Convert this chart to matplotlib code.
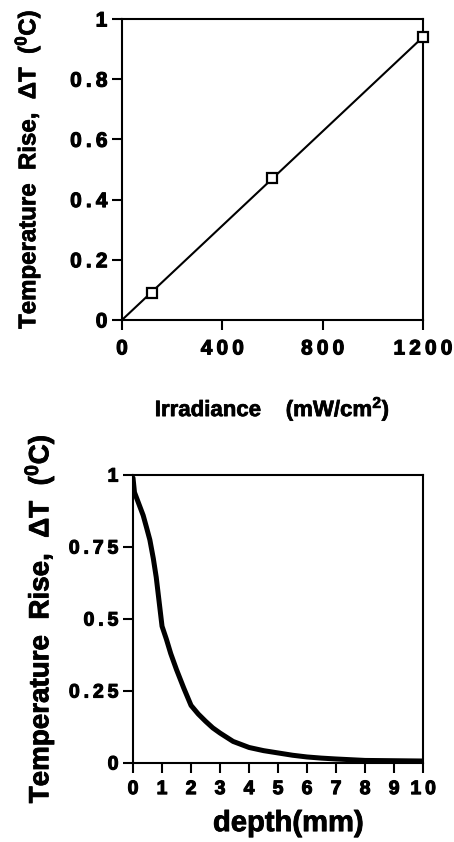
import matplotlib
matplotlib.use("Agg")
import matplotlib.pyplot as plt
import matplotlib.patheffects as pe

plt.rcParams['font.family'] = ['Liberation Sans', 'DejaVu Sans']
plt.rcParams['font.weight'] = 'bold'
plt.rcParams['mathtext.fontset'] = 'custom'
plt.rcParams['mathtext.rm'] = 'Liberation Sans:bold'
plt.rcParams['mathtext.it'] = 'Liberation Sans:bold'
plt.rcParams['mathtext.bf'] = 'Liberation Sans:bold'

# ---- Top panel data ----
irradiance = [120, 600, 1200]
rise_pts = [0.09, 0.47, 0.94]
fit_x = [0, 1200]
fit_y = [0.0, 0.94]
top_xticks = [0, 400, 800, 1200]
top_xticklabels = ['0', '400', '800', '1200']
top_yticks = [0, 0.2, 0.4, 0.6, 0.8, 1]
top_yticklabels = ['0', '0.2', '0.4', '0.6', '0.8', '1']

# ---- Bottom panel data ----
depth = [0.0, 0.05, 0.2, 0.35, 0.46, 0.58, 0.7, 0.8, 0.9, 1.0, 1.15, 1.3,
         1.5, 1.75, 2.0, 2.25, 2.5, 2.75, 3.0, 3.45, 4.0, 4.5, 5.0, 5.5,
         6.0, 6.5, 7.0, 8.0, 9.0, 10.0]
temp = [0.99, 0.94, 0.90, 0.86, 0.82, 0.775, 0.71, 0.645, 0.56, 0.475, 0.43,
        0.38, 0.324, 0.26, 0.20, 0.17, 0.145, 0.122, 0.104, 0.075, 0.054,
        0.043, 0.035, 0.027, 0.021, 0.017, 0.014, 0.009, 0.008, 0.007]
bot_xticks = list(range(0, 11))
bot_xticklabels = [str(v) for v in bot_xticks]
bot_yticks = [0, 0.25, 0.5, 0.75, 1]
bot_yticklabels = ['0', '0.25', '0.5', '0.75', '1']


def spaced(s):
    return '\u2009'.join(s)


heavy = [pe.withStroke(linewidth=0.8, foreground='black')]

fig = plt.figure(figsize=(4.54, 8.42), dpi=100)


def style(ax, size):
    for s in ax.spines.values():
        s.set_linewidth(1.5)
    ax.tick_params(direction='out', length=7, width=1.5, labelsize=size)
    for lab in ax.get_xticklabels() + ax.get_yticklabels():
        lab.set_fontweight('bold')
        lab.set_path_effects(heavy)


# Top
ax1 = fig.add_axes([0.2687, 0.6200, 0.663, 0.3575])
ax1.plot(fit_x, fit_y, color='black', lw=1.5)
ax1.plot(irradiance, rise_pts, linestyle='none', marker='s', ms=6.5,
         mfc='white', mec='black', mew=1.6, clip_on=False, zorder=5)
ax1.set_xlim(0, 1200)
ax1.set_ylim(0, 1)
ax1.set_xticks(top_xticks)
ax1.set_xticklabels([spaced(t) for t in top_xticklabels])
ax1.set_yticks(top_yticks)
ax1.set_yticklabels([spaced(t) for t in top_yticklabels])
style(ax1, 15)
ax1.tick_params(axis='x', pad=7)
xl1 = ax1.set_xlabel('Irradiance    (mW/cm$^{2}$)', fontsize=16,
                     fontweight='bold', labelpad=2)
yl1 = ax1.set_ylabel('Temperature  Rise,  \u0394T  ($^{0}$C)', fontsize=17.3,
                     fontweight='bold', labelpad=20)
xl1.set_path_effects([pe.withStroke(linewidth=0.5, foreground='black')])
yl1.set_path_effects([pe.withStroke(linewidth=0.5, foreground='black')])
ax1.xaxis.set_label_coords(0.5, -0.245)

# Bottom
ax2 = fig.add_axes([0.293, 0.0938, 0.639, 0.3420])
ax2.plot(depth, temp, color='black', lw=3.6, solid_capstyle='round')
ax2.set_xlim(0, 10)
ax2.set_ylim(0, 1)
ax2.set_xticks(bot_xticks)
ax2.set_xticklabels([spaced(t) for t in bot_xticklabels])
ax2.set_yticks(bot_yticks)
ax2.set_yticklabels([spaced(t) for t in bot_yticklabels])
style(ax2, 14)
ax2.tick_params(axis='x', pad=6)
xl2 = ax2.set_xlabel('depth(mm)', fontsize=21, fontweight='bold', labelpad=9)
yl2 = ax2.set_ylabel('Temperature  Rise,  \u0394T  ($^{0}$C)', fontsize=20,
                     fontweight='bold', labelpad=9)
xl2.set_path_effects([pe.withStroke(linewidth=0.6, foreground='black')])
yl2.set_path_effects([pe.withStroke(linewidth=0.6, foreground='black')])
ax2.xaxis.set_label_coords(0.535, -0.16)

fig.savefig('out.png', dpi=100)
